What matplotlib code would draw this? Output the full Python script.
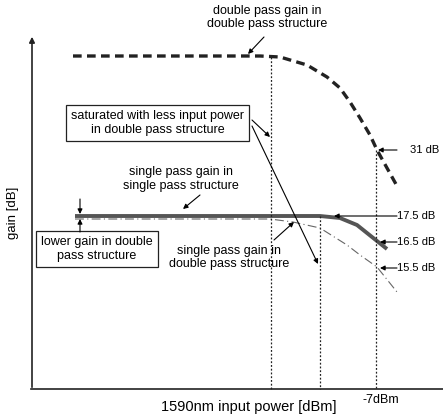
import numpy as np
import matplotlib.pyplot as plt

plt.rcParams['font.family'] = ['Liberation Sans', 'DejaVu Sans']

# schematic drawn in a 443 x 415 canvas space (y grows downward)
# double pass gain in double pass structure
dp_x = [73, 260, 280, 307, 327, 340, 350, 360, 370, 377, 387, 397]
dp_y = [56, 56, 57, 65, 77, 88, 102, 118, 135, 150, 168, 186]
# single pass gain in single pass structure
sp_x = [75, 320, 340, 357, 367, 377, 387]
sp_y = [216, 216, 218, 225, 233, 241, 249]
# single pass gain in double pass structure
spd_x = [75, 270, 293, 320, 347, 360, 377, 397]
spd_y = [219, 219, 222, 228, 245, 255, 267, 292]

vlines_x = [271, 320, 376]
vlines_top = [57, 216, 150]

fig = plt.figure(figsize=(4.43, 4.15), dpi=100)
ax = fig.add_axes([0, 0, 1, 1])
ax.set_xlim(0, 443)
ax.set_ylim(415, 0)
ax.axis('off')

fs = 9

# axes
ax.annotate('', xy=(32, 34), xytext=(32, 390),
            arrowprops=dict(arrowstyle='-|>', color='#222', lw=1.2, mutation_scale=8))
ax.plot([31, 443], [389, 389], color='#222', lw=1.2)

# curves
ax.plot(dp_x, dp_y, color='#222', lw=2.4, dashes=(2.6, 1.6))
ax.plot(sp_x, sp_y, color='#555', lw=2.8, solid_capstyle='butt')
ax.plot(spd_x, spd_y, color='#666', lw=0.8, dashes=(8, 3, 1, 3))

for x, top in zip(vlines_x, vlines_top):
    ax.plot([x, x], [top, 389], color='#222', lw=0.9, dashes=(1.5, 1.5))

arrow = dict(arrowstyle='-|>', color='black', lw=0.8, mutation_scale=7, shrinkA=0, shrinkB=0)
box = dict(boxstyle='square,pad=0.4', fc='white', ec='#222', lw=0.9)

ax.text(267, 17.5, 'double pass gain in\ndouble pass structure', ha='center', va='center',
        fontsize=fs, linespacing=1.15)
ax.annotate('', xy=(248, 54), xytext=(264, 37), arrowprops=arrow)

ax.text(158, 123, 'saturated with less input power\nin double pass structure', ha='center',
        va='center', fontsize=fs, linespacing=1.15, bbox=box)
ax.annotate('', xy=(270, 137), xytext=(252, 120), arrowprops=arrow)
ax.annotate('', xy=(318, 264), xytext=(252, 126), arrowprops=arrow)

ax.text(181, 179, 'single pass gain in\nsingle pass structure', ha='center', va='center',
        fontsize=fs, linespacing=1.15)
ax.annotate('', xy=(183, 209), xytext=(200, 195), arrowprops=arrow)

ax.text(229, 257.5, 'single pass gain in\ndouble pass structure', ha='center', va='center',
        fontsize=fs, linespacing=1.15)
ax.annotate('', xy=(294, 222), xytext=(274, 240), arrowprops=arrow)

ax.text(97, 249, 'lower gain in double\npass structure', ha='center', va='center',
        fontsize=fs, linespacing=1.15, bbox=box)
ax.annotate('', xy=(80, 214), xytext=(80, 199), arrowprops=arrow)
ax.annotate('', xy=(80, 219), xytext=(80, 232), arrowprops=arrow)

# dB labels
ax.text(410, 150, '31 dB', ha='left', va='center', fontsize=8)
ax.annotate('', xy=(378, 150), xytext=(397, 150), arrowprops=arrow)
ax.text(397, 216, '17.5 dB', ha='left', va='center', fontsize=8)
ax.annotate('', xy=(334, 216), xytext=(397, 216), arrowprops=arrow)
ax.text(397, 242, '16.5 dB', ha='left', va='center', fontsize=8)
ax.annotate('', xy=(380, 242), xytext=(397, 242), arrowprops=arrow)
ax.text(397, 268, '15.5 dB', ha='left', va='center', fontsize=8)
ax.annotate('', xy=(380, 268), xytext=(397, 268), arrowprops=arrow)

ax.text(381, 400, '-7dBm', ha='center', va='center', fontsize=9)
ax.text(249, 407, '1590nm input power [dBm]', ha='center', va='center', fontsize=10.5)
ax.text(13, 213, 'gain [dB]', ha='center', va='center', rotation=90, fontsize=9.5)

fig.savefig('out.png', dpi=100)
